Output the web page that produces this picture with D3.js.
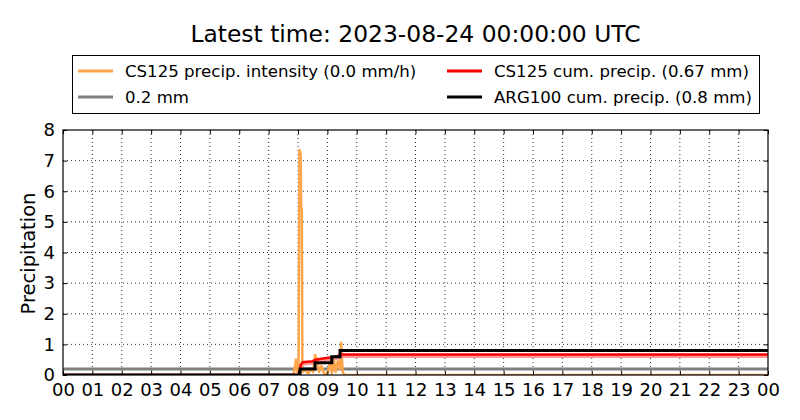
<!DOCTYPE html>
<html><head><meta charset="utf-8">
<script src="https://cdn.jsdelivr.net/npm/d3@7"></script>
<style>body{margin:0;background:#fff;} svg{display:block;font-family:"DejaVu Sans",sans-serif;}</style>
</head><body>
<svg id="c" width="800" height="420"></svg>
<script>
const title = "Latest time: 2023-08-24 00:00:00 UTC";
const hourLabels = ["00","01","02","03","04","05","06","07","08","09","10","11","12","13","14","15","16","17","18","19","20","21","22","23","00"];
const yTicks = [0,1,2,3,4,5,6,7,8];
// CS125 precipitation intensity (mm/h), time in hours
const intensityTime = [0, 7.85, 7.93, 7.98, 8.02, 8.05, 8.09, 8.11, 8.13, 8.15, 8.25, 8.35, 8.45, 8.52, 8.58, 8.65, 8.72, 8.8, 8.9, 9.02, 9.1, 9.15, 9.22, 9.28, 9.35, 9.42, 9.47, 9.52, 9.58, 24];
const intensityVal  = [0, 0,    0.5,  0.1,  0.3,  7.35, 7.2,  5.5,  5.4,  0.1,  0.15, 0.05, 0.2,  0.1,  0.65, 0.5,  0.1,  0.3, 0,   0.1,  0.45, 0.05, 0.5,  0.1,  0.45, 0.2,  1.05, 0.1,  0,    0];
// CS125 cumulative precipitation (mm)
const cumTime = [0, 8.0, 8.03, 8.1, 8.16, 8.5, 8.6, 8.9, 9.1, 9.3, 9.5, 24];
const cumVal  = [0, 0,   0.05, 0.35, 0.42, 0.45, 0.5, 0.55, 0.57, 0.6, 0.67, 0.67];
// ARG100 cumulative precipitation (mm)
const argTime = [0, 8.07, 8.58, 9.15, 9.43, 24];
const argVal  = [0, 0.2,  0.4,  0.6,  0.8,  0.8];
const threshold = 0.2;
const legendItems = [
  {label:"CS125 precip. intensity (0.0 mm/h)", color:"#ffa64d"},
  {label:"CS125 cum. precip. (0.67 mm)", color:"#ff0000"},
  {label:"0.2 mm", color:"#808080"},
  {label:"ARG100 cum. precip. (0.8 mm)", color:"#000000"}
];

const svg = d3.select("#c");
const L=63, R=768, T=130, B=375;
const x = d3.scaleLinear().domain([0,24]).range([L,R]);
const y = d3.scaleLinear().domain([0,8]).range([B,T]);

svg.append("defs").append("clipPath").attr("id","clip").append("rect")
  .attr("x",L).attr("y",T).attr("width",R-L).attr("height",B-T);

// grid
const g = svg.append("g");
g.selectAll("line.vg").data(d3.range(1,24)).enter().append("line")
  .attr("x1",d=>x(d)).attr("x2",d=>x(d)).attr("y1",T).attr("y2",B)
  .attr("stroke","#000").attr("stroke-width",0.8).attr("stroke-dasharray","1,3");
g.selectAll("line.hg").data(yTicks.slice(1,-1)).enter().append("line")
  .attr("y1",d=>y(d)).attr("y2",d=>y(d)).attr("x1",L).attr("x2",R)
  .attr("stroke","#000").attr("stroke-width",0.8).attr("stroke-dasharray","1,3");

const plot = svg.append("g").attr("clip-path","url(#clip)");
const line = d3.line().x(d=>x(d[0])).y(d=>y(d[1]));
const stepLine = d3.line().x(d=>x(d[0])).y(d=>y(d[1])).curve(d3.curveStepAfter);

// threshold
plot.append("path").datum([[0,threshold],[24,threshold]]).attr("d",line)
  .attr("fill","none").attr("stroke","#808080").attr("stroke-width",3);
// intensity
plot.append("path").datum(d3.zip(intensityTime,intensityVal)).attr("d",line)
  .attr("fill","none").attr("stroke","#ffa64d").attr("stroke-width",2.5).attr("stroke-linejoin","round");
// CS125 cumulative (with light halo)
plot.append("path").datum(d3.zip(cumTime,cumVal)).attr("d",line)
  .attr("transform","translate(0,2)")
  .attr("fill","none").attr("stroke","#ff8080").attr("stroke-width",3).attr("stroke-opacity",0.8);
plot.append("path").datum(d3.zip(cumTime,cumVal)).attr("d",line)
  .attr("fill","none").attr("stroke","#ff0000").attr("stroke-width",2.5);
// ARG100 cumulative
plot.append("path").datum(d3.zip(argTime,argVal)).attr("d",stepLine)
  .attr("fill","none").attr("stroke","#000").attr("stroke-width",3);

// frame
svg.append("rect").attr("x",L).attr("y",T).attr("width",R-L).attr("height",B-T)
  .attr("fill","none").attr("stroke","#000").attr("stroke-width",1.2);

// axes
const xAxis = d3.axisBottom(x).tickValues(d3.range(0,25)).tickFormat((d,i)=>hourLabels[i]).tickSizeInner(-4).tickSizeOuter(0).tickPadding(8);
const ax = svg.append("g").attr("transform",`translate(0,${B})`).call(xAxis);
ax.select(".domain").remove();
ax.selectAll("text").attr("font-size",18).attr("fill","#000").attr("font-family","DejaVu Sans");
const xAxisTop = d3.axisTop(x).tickValues(d3.range(0,25)).tickFormat("").tickSizeInner(-4).tickSizeOuter(0);
svg.append("g").attr("transform",`translate(0,${T})`).call(xAxisTop).select(".domain").remove();

const yAxis = d3.axisLeft(y).tickValues(yTicks).tickFormat(d3.format("d")).tickSizeInner(-4).tickSizeOuter(0).tickPadding(8);
const ay = svg.append("g").attr("transform",`translate(${L},0)`).call(yAxis);
ay.select(".domain").remove();
ay.selectAll("text").attr("font-size",18).attr("fill","#000").attr("font-family","DejaVu Sans");
const yAxisR = d3.axisRight(y).tickValues(yTicks).tickFormat("").tickSizeInner(-4).tickSizeOuter(0);
svg.append("g").attr("transform",`translate(${R},0)`).call(yAxisR).select(".domain").remove();

svg.append("text").attr("transform",`translate(35,${(T+B)/2+1}) rotate(-90)`)
  .attr("text-anchor","middle").attr("font-size",19.5).text("Precipitation");

svg.append("text").attr("x",(L+R)/2).attr("y",42).attr("text-anchor","middle")
  .attr("font-size",23.4).text(title);

// legend
const lg = svg.append("g");
lg.append("rect").attr("x",72.5).attr("y",55.5).attr("width",687).attr("height",58)
  .attr("fill","#fff").attr("stroke","#000").attr("stroke-width",1);
const colX = [78, 447], rowY = [71, 97];
legendItems.forEach((it,i)=>{
  const cx = colX[i%2], cy = rowY[Math.floor(i/2)];
  lg.append("line").attr("x1",cx).attr("x2",cx+35).attr("y1",cy).attr("y2",cy)
    .attr("stroke",it.color).attr("stroke-width",3);
  lg.append("text").attr("x",cx+47).attr("y",cy+6).attr("font-size",16.6).text(it.label);
});
</script>
</body></html>
